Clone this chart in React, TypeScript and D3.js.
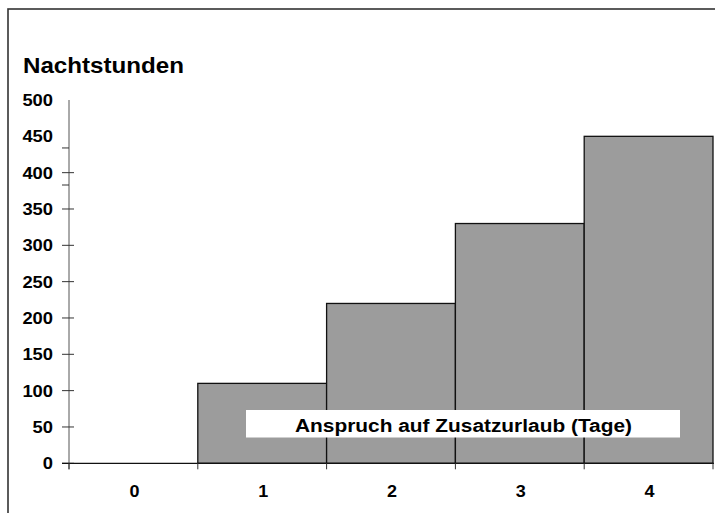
import React from "react";
import * as d3 from "d3";

// Chart data
const categories = ["0", "1", "2", "3", "4"];
const nightHours = [0, 110, 220, 330, 450];
const yTicks = [0, 50, 100, 150, 200, 250, 300, 350, 400, 450, 500];
const crossTicks = [0, 50, 100, 150, 200, 250, 300, 350, 400];
const strayTicks = [434, 383]; // odd half ticks left of the axis in the original
const titleText = "Nachtstunden";
const axisTitle = "Anspruch auf Zusatzurlaub (Tage)";

const W = 715;
const H = 513;
const FONT = "'Liberation Sans', Arial, Helvetica, sans-serif";

export default function App() {
  const left = 69;
  const right = 713;
  const top = 100;
  const bottom = 463.3;

  const x = d3.scaleBand<string>().domain(categories).range([left, right]).padding(0);
  const y = d3.scaleLinear().domain([0, 500]).range([bottom, top]);

  // boundaries of the bands for the x ticks
  const xEdges = categories.map((c) => x(c) as number).concat([right]);

  return (
    <svg
      width={W}
      height={H}
      style={{ position: "absolute", left: 0, top: 0, background: "#fff" }}
      fontFamily={FONT}
      fontWeight="bold"
    >
      {/* outer frame, runs off the right and bottom edges */}
      <rect x={8} y={9} width={760} height={560} fill="#fff" stroke="#333" strokeWidth={1.6} />

      <text x={23} y={73} fontSize={22.5} textLength={161} lengthAdjust="spacingAndGlyphs" fill="#000">
        {titleText}
      </text>

      {/* bars */}
      <g>
        {categories.map((c, i) =>
          nightHours[i] > 0 ? (
            <rect
              key={c}
              x={x(c)}
              y={y(nightHours[i])}
              width={x.bandwidth()}
              height={bottom - y(nightHours[i])}
              fill="#9c9c9c"
              stroke="#111"
              strokeWidth={1.3}
            />
          ) : null
        )}
      </g>

      {/* y axis */}
      <g>
        <line x1={left} x2={left} y1={top} y2={bottom + 6} stroke="#555" strokeWidth={1} />
        {crossTicks.map((t) => (
          <line key={t} x1={left - 7} x2={left + 5} y1={y(t)} y2={y(t)} stroke="#333" strokeWidth={1} />
        ))}
        {strayTicks.map((t) => (
          <line key={"s" + t} x1={left - 7} x2={left} y1={y(t)} y2={y(t)} stroke="#333" strokeWidth={1} />
        ))}
        {yTicks.map((t) => (
          <text
            key={t}
            x={53}
            y={y(t) + 6}
            fontSize={16.5}
            textAnchor="end"
            textLength={String(t).length * 10.2}
            lengthAdjust="spacingAndGlyphs"
            fill="#000"
          >
            {t}
          </text>
        ))}
      </g>

      {/* x axis */}
      <g>
        <line x1={left - 7} x2={right + 1} y1={bottom} y2={bottom} stroke="#111" strokeWidth={1.2} />
        {xEdges.map((e, i) => (
          <line key={i} x1={e} x2={e} y1={bottom} y2={bottom + 6} stroke="#333" strokeWidth={1} />
        ))}
        {categories.map((c) => (
          <text
            key={c}
            x={(x(c) as number) + x.bandwidth() / 2 + 1}
            y={497}
            fontSize={16.5}
            textAnchor="middle"
            textLength={10}
            lengthAdjust="spacingAndGlyphs"
            fill="#000"
          >
            {c}
          </text>
        ))}
      </g>

      {/* axis title sits in a white box over the bars */}
      <rect x={246} y={410} width={434} height={27.5} fill="#fff" />
      <text
        x={463.5}
        y={432}
        fontSize={18}
        textAnchor="middle"
        textLength={337}
        lengthAdjust="spacingAndGlyphs"
        fill="#000"
      >
        {axisTitle}
      </text>
    </svg>
  );
}
